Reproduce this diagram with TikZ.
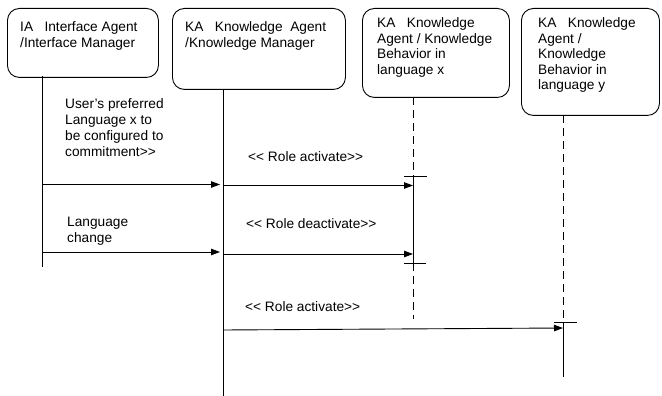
\documentclass[tikz,border=0pt]{standalone}
\usepackage{fontspec}
\setmainfont{Liberation Sans}
\usetikzlibrary{arrows.meta}
\tikzset{
  lane/.style={draw, line width=0.9pt, rounded corners=12pt, inner sep=0pt, anchor=north west},
  lanetext/.style={anchor=north west, inner sep=0pt, align=left, font=\fontsize{13.7}{15.5}\selectfont},
  msgtext/.style={anchor=north west, inner sep=0pt, align=left, font=\fontsize{13.7}{16}\selectfont},
  life/.style={line width=0.8pt},
  lifedash/.style={line width=0.8pt, dash pattern=on 8pt off 5pt},
  msg/.style={line width=0.9pt, -{Triangle[length=9pt,width=6.5pt]}},
  tick/.style={line width=0.8pt}
}
\begin{document}
\begin{tikzpicture}[x=1pt,y=-1pt]
\useasboundingbox (0,0) rectangle (662,396);

% lifeline heads
\node[lane, minimum width=151pt, minimum height=69pt] (ia) at (7,8) {};
\node[lane, minimum width=173pt, minimum height=81pt] (ka) at (172,8) {};
\node[lane, minimum width=147pt, minimum height=89pt] (kx) at (362,8) {};
\node[lane, minimum width=138pt, minimum height=107pt] (ky) at (521,8) {};

\node[lanetext] (iat) at (20,21.5) {IA\ \ \ Interface Agent\\/Interface Manager};
\node[lanetext] (kat) at (185,21.5) {KA\ \ \ Knowledge\ \ Agent\\/Knowledge Manager};
\node[lanetext] (kxt) at (377,17.5) {KA\ \ \ Knowledge\\Agent / Knowledge\\Behavior in\\language x};
\node[lanetext] (kyt) at (538,17.5) {KA\ \ \ Knowledge\\Agent /\\Knowledge\\Behavior in\\language y};

% lifeline points
\coordinate (ia0) at (42,76);
\coordinate (ia9) at (42,267);
\coordinate (ka0) at (223,89);
\coordinate (ka9) at (223,396);
\coordinate (kx0) at (413,97);
\coordinate (kx1) at (413,176);
\coordinate (kx2) at (413,263);
\coordinate (kx9) at (413,319);
\coordinate (ky0) at (563,115);
\coordinate (ky1) at (563,322);
\coordinate (ky9) at (563,377);

\draw[life] (ia0) -- (ia9);
\draw[life] (ka0) -- (ka9);
\draw[lifedash] (kx0) -- (kx1);
\draw[life] (kx1) -- (kx2);
\draw[lifedash] (kx2) -- (kx9);
\draw[lifedash] (ky0) -- (ky1);
\draw[life] (ky1) -- (ky9);

% activation marks
\draw[tick] ([xshift=-9pt]kx1) -- ([xshift=14pt]kx1);
\draw[tick] ([xshift=-9pt]kx2) -- ([xshift=13pt]kx2);
\draw[tick] ([xshift=-9pt]ky1) -- ([xshift=14pt]ky1);

% messages
\coordinate (m1a) at (42,184.5);  \coordinate (m1b) at (220,184.5);
\coordinate (m2a) at (223,185.5); \coordinate (m2b) at (413,185.5);
\coordinate (m3a) at (42,252);    \coordinate (m3b) at (220,252);
\coordinate (m4a) at (223,254);   \coordinate (m4b) at (413,254);
\coordinate (m5a) at (223,330);   \coordinate (m5b) at (563,328);
\draw[msg] (m1a) -- (m1b);
\draw[msg] (m2a) -- (m2b);
\draw[msg] (m3a) -- (m3b);
\draw[msg] (m4a) -- (m4b);
\draw[msg] (m5a) -- (m5b);

\node[msgtext] (l1) at (65,98.5) {User's preferred\\Language x to\\be configured to\\commitment>{}>};
\node[msgtext] (l2) at (248,151.5) {<{}< Role activate>{}>};
\node[msgtext] (l3) at (67,216.5) {Language\\change};
\node[msgtext] (l4) at (246,218.5) {<{}< Role deactivate>{}>};
\node[msgtext] (l5) at (245,301.5) {<{}< Role activate>{}>};
\end{tikzpicture}
\end{document}
